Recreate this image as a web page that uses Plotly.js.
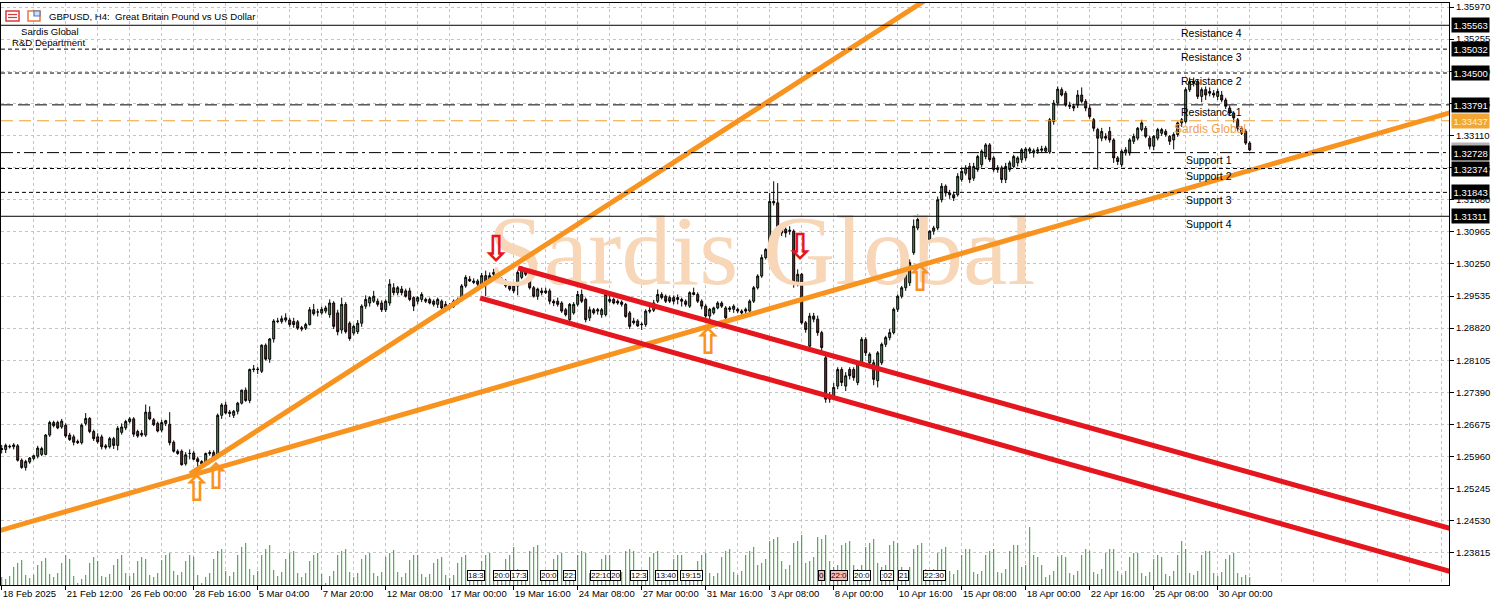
<!DOCTYPE html>
<html><head><meta charset="utf-8">
<script src="https://cdn.plot.ly/plotly-3.0.1.min.js"></script>
<style>html,body{margin:0;padding:0;background:#fff}#chart{width:1499px;height:600px}</style>
</head><body><div id="chart"></div>
<script>
// ---------- DATA ----------
const opens = [
1.2614,1.2612,1.2619,1.2618,1.2620,1.2588,1.2572,1.2584,1.2592,1.2597,
1.2601,1.2601,1.2644,1.2672,1.2672,1.2662,1.2666,1.2644,1.2640,1.2630,
1.2627,1.2670,1.2681,1.2652,1.2640,1.2640,1.2620,1.2618,1.2636,1.2621,
1.2650,1.2660,1.2674,1.2680,1.2652,1.2648,1.2644,1.2695,1.2678,1.2670,
1.2655,1.2670,1.2668,1.2628,1.2608,1.2608,1.2580,1.2603,1.2604,1.2591,
1.2585,1.2582,1.2603,1.2605,1.2597,1.2688,1.2711,1.2692,1.2688,1.2697,
1.2715,1.2744,1.2721,1.2790,1.2791,1.2786,1.2844,1.2813,1.2858,1.2898,
1.2897,1.2900,1.2900,1.2897,1.2896,1.2883,1.2882,1.2890,1.2923,1.2918,
1.2916,1.2920,1.2912,1.2938,1.2916,1.2878,1.2935,1.2893,1.2871,1.2874,
1.2893,1.2931,1.2938,1.2942,1.2942,1.2938,1.2923,1.2938,1.2972,1.2961,
1.2969,1.2965,1.2965,1.2950,1.2942,1.2946,1.2946,1.2946,1.2942,1.2935,
1.2942,1.2935,1.2931,1.2931,1.2938,1.2946,1.2976,1.2991,1.2987,1.2987,
1.2980,1.2999,1.2991,1.3002,1.3006,1.2991,1.2987,1.2976,1.2976,1.2976,
1.2995,1.3010,1.3002,1.2972,1.2953,1.2965,1.2965,1.2965,1.2942,1.2942,
1.2938,1.2923,1.2901,1.2916,1.2935,1.2957,1.2946,1.2905,1.2923,1.2920,
1.2912,1.2912,1.2946,1.2946,1.2942,1.2940,1.2935,1.2916,
1.2898,1.2898,1.2891,1.2890,1.2922,1.2922,1.2942,1.2957,1.2953,1.2950,
1.2950,1.2950,1.2946,1.2942,1.2931,1.2961,1.2957,1.2942,1.2931,1.2909,
1.2916,1.2927,1.2938,1.2927,1.2927,1.2924,1.2924,1.2920,1.2924,1.2920,
1.2942,1.2972,1.2998,1.3039,1.3057,1.3164,1.3161,1.3105,1.3102,1.3100,
1.3098,1.2979,1.3002,1.2894,1.2842,1.2909,1.2902,1.2872,1.2816,1.2731,
1.2731,1.2753,1.2790,1.2753,1.2790,1.2790,1.2761,1.2805,1.2857,1.2805,
1.2805,1.2765,1.2805,1.2846,1.2861,1.2872,1.2924,1.2953,1.2972,1.2983,
1.3050,1.3105,1.3124,1.3053,1.3079,1.3098,1.3105,
1.3168,1.3198,1.3183,1.3179,1.3179,1.3213,1.3227,1.3242,1.3216,1.3235,
1.3246,1.3264,1.3290,1.3261,1.3239,1.3239,1.3213,1.3235,1.3242,1.3250,
1.3257,1.3261,1.3276,1.3272,1.3276,1.3278,1.3276,1.3274,1.3342,1.3383,
1.3413,1.3405,1.3379,1.3376,1.3379,1.3401,1.3387,1.3372,1.3346,1.3324,
1.3305,1.3309,1.3320,1.3301,1.3261,1.3246,1.3272,1.3272,1.3298,1.3305,
1.3324,1.3327,1.3305,1.3287,1.3305,1.3316,1.3320,1.3309,1.3301,1.3313,
1.3339,1.3342,1.3413,1.3431,1.3431,1.3398,1.3413,1.3409,1.3405,1.3398,
1.3401,1.3390,1.3372,1.3361,1.3346,1.3327,1.3320,1.3294];
const highs = [
1.2622,1.2625,1.2623,1.2626,1.2624,1.2592,1.2589,1.2595,1.2600,1.2620,
1.2618,1.2646,1.2676,1.2676,1.2676,1.2680,1.2670,1.2649,1.2645,1.2634,
1.2670,1.2693,1.2684,1.2656,1.2648,1.2645,1.2624,1.2640,1.2640,1.2664,
1.2670,1.2678,1.2684,1.2684,1.2656,1.2655,1.2712,1.2708,1.2682,1.2674,
1.2678,1.2678,1.2695,1.2632,1.2612,1.2612,1.2606,1.2612,1.2609,1.2596,
1.2588,1.2605,1.2610,1.2610,1.2692,1.2715,1.2718,1.2700,1.2700,1.2718,
1.2745,1.2750,1.2792,1.2800,1.2796,1.2846,1.2848,1.2860,1.2902,1.2905,
1.2910,1.2915,1.2905,1.2905,1.2900,1.2887,1.2894,1.2929,1.2936,1.2925,
1.2930,1.2932,1.2946,1.2942,1.2923,1.2950,1.2940,1.2897,1.2890,1.2900,
1.2935,1.2955,1.2953,1.2965,1.2948,1.2944,1.2946,1.2991,1.2982,1.2976,
1.2976,1.2970,1.2972,1.2953,1.2953,1.2962,1.2950,1.2950,1.2946,1.2950,
1.2946,1.2942,1.2938,1.2946,1.2950,1.2980,1.3000,1.2998,1.2993,1.2991,
1.3005,1.3010,1.3006,1.3014,1.3010,1.2995,1.2991,1.2980,1.2980,1.3010,
1.3020,1.3015,1.3006,1.2976,1.2972,1.2972,1.2972,1.2970,1.2946,1.2950,
1.2942,1.2927,1.2938,1.2940,1.2965,1.2968,1.2950,1.2930,1.2927,1.2927,
1.2927,1.2962,1.2960,1.2950,1.2946,1.2944,1.2938,1.2920,
1.2905,1.2902,1.2895,1.2924,1.2930,1.2945,1.2968,1.2962,1.2957,1.2955,
1.2955,1.2957,1.2950,1.2946,1.2964,1.2972,1.2962,1.2946,1.2935,1.2927,
1.2930,1.2942,1.2942,1.2931,1.2931,1.2935,1.2928,1.2924,1.2928,1.2946,
1.2976,1.3002,1.3046,1.3060,1.3183,1.3209,1.3205,1.3109,1.3106,1.3109,
1.3102,1.3013,1.3005,1.2898,1.2916,1.2916,1.2910,1.2876,1.2820,1.2740,
1.2760,1.2795,1.2795,1.2784,1.2795,1.2795,1.2808,1.2862,1.2862,1.2828,
1.2812,1.2831,1.2850,1.2865,1.2880,1.2928,1.2957,1.2976,1.3020,1.3035,
1.3124,1.3135,1.3130,1.3075,1.3100,1.3110,1.3175,
1.3205,1.3202,1.3190,1.3186,1.3227,1.3240,1.3245,1.3250,1.3250,1.3268,
1.3280,1.3294,1.3294,1.3265,1.3245,1.3244,1.3250,1.3255,1.3268,1.3265,
1.3283,1.3285,1.3285,1.3282,1.3285,1.3288,1.3288,1.3350,1.3390,1.3420,
1.3418,1.3410,1.3386,1.3382,1.3412,1.3418,1.3392,1.3378,1.3350,1.3328,
1.3328,1.3316,1.3330,1.3305,1.3265,1.3280,1.3285,1.3305,1.3315,1.3330,
1.3346,1.3332,1.3310,1.3312,1.3328,1.3328,1.3325,1.3312,1.3318,1.3342,
1.3350,1.3418,1.3440,1.3440,1.3436,1.3418,1.3420,1.3418,1.3412,1.3415,
1.3410,1.3395,1.3378,1.3365,1.3350,1.3332,1.3325,1.3298];
const lows = [
1.2603,1.2604,1.2614,1.2612,1.2585,1.2569,1.2565,1.2580,1.2588,1.2592,
1.2597,1.2599,1.2640,1.2661,1.2657,1.2658,1.2638,1.2631,1.2621,1.2624,
1.2623,1.2665,1.2648,1.2631,1.2625,1.2612,1.2612,1.2614,1.2613,1.2610,
1.2645,1.2655,1.2670,1.2640,1.2638,1.2640,1.2640,1.2677,1.2664,1.2650,
1.2650,1.2664,1.2621,1.2605,1.2600,1.2576,1.2576,1.2590,1.2588,1.2569,
1.2576,1.2578,1.2598,1.2592,1.2592,1.2680,1.2690,1.2684,1.2682,1.2690,
1.2712,1.2718,1.2715,1.2784,1.2780,1.2782,1.2810,1.2805,1.2850,1.2893,
1.2892,1.2895,1.2885,1.2883,1.2878,1.2875,1.2878,1.2888,1.2910,1.2908,
1.2912,1.2915,1.2905,1.2880,1.2866,1.2870,1.2870,1.2854,1.2866,1.2869,
1.2885,1.2925,1.2930,1.2938,1.2930,1.2918,1.2918,1.2932,1.2955,1.2955,
1.2955,1.2950,1.2942,1.2920,1.2935,1.2940,1.2938,1.2935,1.2930,1.2927,
1.2920,1.2923,1.2923,1.2927,1.2935,1.2942,1.2972,1.2985,1.2980,1.2976,
1.2972,1.2953,1.2985,1.2998,1.2995,1.2980,1.2972,1.2965,1.2960,1.2955,
1.2991,1.2998,1.2968,1.2950,1.2945,1.2955,1.2958,1.2935,1.2931,1.2930,
1.2916,1.2908,1.2895,1.2912,1.2930,1.2938,1.2895,1.2898,1.2912,1.2912,
1.2905,1.2908,1.2938,1.2935,1.2934,1.2930,1.2905,1.2880,
1.2890,1.2885,1.2878,1.2885,1.2915,1.2918,1.2938,1.2946,1.2938,1.2938,
1.2935,1.2935,1.2930,1.2930,1.2927,1.2955,1.2938,1.2924,1.2905,1.2902,
1.2912,1.2924,1.2927,1.2898,1.2918,1.2916,1.2915,1.2912,1.2912,1.2916,
1.2938,1.2968,1.2994,1.3035,1.3050,1.3155,1.3102,1.3087,1.3084,1.3090,
1.2972,1.2975,1.2890,1.2872,1.2830,1.2895,1.2865,1.2830,1.2716,1.2716,
1.2726,1.2746,1.2753,1.2742,1.2768,1.2765,1.2755,1.2800,1.2820,1.2798,
1.2755,1.2750,1.2800,1.2840,1.2855,1.2868,1.2918,1.2948,1.2965,1.2976,
1.3045,1.3100,1.3045,1.3040,1.3072,1.3090,1.3100,
1.3162,1.3175,1.3170,1.3165,1.3175,1.3208,1.3222,1.3205,1.3210,1.3230,
1.3240,1.3258,1.3252,1.3230,1.3228,1.3205,1.3205,1.3230,1.3238,1.3242,
1.3250,1.3255,1.3270,1.3262,1.3270,1.3272,1.3272,1.3270,1.3335,1.3378,
1.3398,1.3375,1.3370,1.3365,1.3372,1.3383,1.3365,1.3348,1.3320,1.3235,
1.3298,1.3300,1.3295,1.3250,1.3245,1.3240,1.3266,1.3266,1.3292,1.3300,
1.3320,1.3305,1.3280,1.3278,1.3300,1.3310,1.3308,1.3290,1.3280,1.3308,
1.3330,1.3338,1.3408,1.3420,1.3392,1.3385,1.3390,1.3398,1.3395,1.3390,
1.3385,1.3370,1.3355,1.3340,1.3320,1.3312,1.3290,1.3276];
const closes = [
1.2612,1.2621,1.2618,1.2622,1.2588,1.2572,1.2585,1.2593,1.2598,1.2615,
1.2614,1.2644,1.2672,1.2665,1.2660,1.2675,1.2642,1.2634,1.2628,1.2627,
1.2666,1.2681,1.2652,1.2636,1.2629,1.2618,1.2617,1.2636,1.2621,1.2659,
1.2662,1.2674,1.2680,1.2646,1.2642,1.2644,1.2695,1.2680,1.2667,1.2653,
1.2672,1.2676,1.2627,1.2608,1.2603,1.2578,1.2600,1.2603,1.2590,1.2585,
1.2580,1.2603,1.2605,1.2595,1.2688,1.2711,1.2693,1.2695,1.2697,1.2715,
1.2744,1.2721,1.2790,1.2791,1.2790,1.2844,1.2813,1.2858,1.2898,1.2897,
1.2903,1.2905,1.2890,1.2890,1.2882,1.2880,1.2890,1.2923,1.2914,1.2918,
1.2924,1.2927,1.2938,1.2886,1.2874,1.2935,1.2874,1.2859,1.2886,1.2893,
1.2931,1.2946,1.2950,1.2953,1.2935,1.2923,1.2942,1.2980,1.2961,1.2972,
1.2961,1.2953,1.2946,1.2931,1.2950,1.2957,1.2942,1.2938,1.2935,1.2946,
1.2927,1.2927,1.2927,1.2942,1.2946,1.2976,1.2995,1.2987,1.2984,1.2980,
1.2999,1.2980,1.2999,1.3006,1.2999,1.2984,1.2976,1.2969,1.2965,1.3006,
1.3014,1.3002,1.2972,1.2953,1.2969,1.2961,1.2961,1.2942,1.2938,1.2935,
1.2920,1.2912,1.2935,1.2935,1.2957,1.2942,1.2901,1.2923,1.2916,1.2923,
1.2923,1.2957,1.2942,1.2938,1.2938,1.2935,1.2908,1.2886,
1.2894,1.2887,1.2890,1.2920,1.2920,1.2938,1.2957,1.2950,1.2942,1.2942,
1.2942,1.2946,1.2942,1.2935,1.2961,1.2957,1.2942,1.2931,1.2909,1.2924,
1.2927,1.2938,1.2931,1.2905,1.2924,1.2931,1.2920,1.2916,1.2920,1.2942,
1.2972,1.2998,1.3039,1.3057,1.3164,1.3161,1.3105,1.3094,1.3094,1.3098,
1.2983,1.3002,1.2894,1.2879,1.2909,1.2902,1.2872,1.2839,1.2724,1.2724,
1.2750,1.2790,1.2761,1.2776,1.2776,1.2772,1.2805,1.2857,1.2827,1.2824,
1.2768,1.2827,1.2846,1.2861,1.2872,1.2924,1.2953,1.2972,1.3013,1.3028,
1.3109,1.3124,1.3053,1.3072,1.3098,1.3105,1.3168,
1.3198,1.3183,1.3179,1.3172,1.3220,1.3231,1.3239,1.3213,1.3242,1.3264,
1.3276,1.3290,1.3257,1.3235,1.3235,1.3213,1.3242,1.3250,1.3264,1.3261,
1.3279,1.3281,1.3281,1.3277,1.3279,1.3281,1.3283,1.3346,1.3383,1.3414,
1.3401,1.3379,1.3376,1.3372,1.3401,1.3387,1.3372,1.3353,1.3327,1.3305,
1.3320,1.3305,1.3301,1.3261,1.3253,1.3276,1.3279,1.3301,1.3309,1.3327,
1.3339,1.3309,1.3287,1.3309,1.3324,1.3324,1.3313,1.3298,1.3313,1.3339,
1.3346,1.3413,1.3431,1.3427,1.3398,1.3413,1.3401,1.3405,1.3401,1.3409,
1.3390,1.3376,1.3361,1.3350,1.3327,1.3316,1.3294,1.3279];
const volumes = [
8, 6,9,18,22,25,10, 7,10,20,24,27,11, 8,12,22,30,26,9, 2,
6,10,22,28,24,9, 8,11,20,26,30,12, 9,12,24,28,26,10, 8,12,25,30,32,14, 10,13,24,30,28,10, 2,
8,12,26,34,36,14, 9,13,30,38,42,16, 10,14,30,36,40,15, 9,13,26,32,34,12, 8,12,24,30,32,11, 2,
9,14,30,34,36,13, 8,12,26,30,32,12, 9,13,28,32,35,13, 8,12,25,30,30,11, 8,11,22,26,28,10,
7,10,22,28,30,11, 8,11,24,30,32,12, 8,12,26,30,38,16, 9,14,34,38,40,14, 8,12,26,30,32,11,
8,12,30,34,32,12, 8,12,26,30,30,11, 9,13,34,36,34,12, 8,12,28,32,34,12, 8,11,26,30,30,10,
8,12,24,30,32,12, 9,12,28,34,36,13, 10,14,30,34,38,20, 22,26,44,46,48,24, 16,20,42,44,50,22,
24,28,48,46,50,24, 18,20,40,42,44,20, 16,20,38,42,46,22, 18,20,40,44,42,18, 14,18,36,40,42,16,
12,16,32,36,38,14, 11,15,30,36,36,13, 11,14,30,34,36,13, 12,16,34,40,40,18, 20,58,30,28,20,8,
10,14,28,30,28,12, 10,14,30,36,34,13, 11,16,32,36,36,14, 10,14,28,32,32,12, 9,13,26,30,28,11,
9,14,30,44,36,12, 10,14,30,34,34,12, 9,13,26,30,32,12, 8,10,8];
const barIndex = closes.map((_, i) => i);

const tickBars = [0,16,32,48,64,80,96,112,128,144,160,176,192,208,224,240,256,272,288,304];
const tickLabels = ["18 Feb 2025","21 Feb 12:00","26 Feb 00:00","28 Feb 16:00","5 Mar 04:00","7 Mar 20:00",
  "12 Mar 08:00","17 Mar 00:00","19 Mar 16:00","24 Mar 08:00","27 Mar 00:00","31 Mar 16:00","3 Apr 08:00",
  "8 Apr 00:00","10 Apr 16:00","15 Apr 08:00","18 Apr 00:00","22 Apr 16:00","25 Apr 08:00","30 Apr 00:00"];
const priceTickLabels = ["1.23815","1.24530","1.25245","1.25960","1.26675","1.27390","1.28105","1.28820",
  "1.29535","1.30250","1.30965","1.31680","1.32395","1.33110","1.33825","1.34540","1.35255","1.35970"];

const levelPrices = [1.35563, 1.35032, 1.34500, 1.33791, 1.33437, 1.32728, 1.32374, 1.31843, 1.31311];
const levelNames = ["Resistance 4","Resistance 3","Resistance 2","Resistance 1","Sardis Global","Support 1","Support 2","Support 3","Support 4"];
const levelLabelBars = [294.6, 294.6, 294.6, 294.6, 292.8, 295.8, 295.8, 295.8, 295.8];
const bidPrice = 1.32790;

// trendlines: anchor bars and prices
const orangeLowBars = [-1, 363], orangeLowPrices = [1.24300, 1.33640];
const orangeSteepBars = [47.1, 246.5], orangeSteepPrices = [1.25574, 1.37016];
const redUpperBars = [129.1, 363], redUpperPrices = [1.30160, 1.24340];
const redLowerBars = [119.6, 363], redLowerPrices = [1.29492, 1.23380];

const upArrowBars = [48.8, 53.6, 176.6, 229.6];
const upArrowPrices = [1.25173, 1.25440, 1.28445, 1.29848];
const downArrowBars = [123.6, 199.6];
const downArrowPrices = [1.30516, 1.30560];

const watermarkBar = [190], watermarkPrice = [1.3035], watermarkText = ["Sardis Global"];

const eventBars = [116.3,122.8,127.0,134.6,140.3,147.1,152.1,157.1,163.3,169.6,204.0,207.0,212.8,219.6,224.1,230.3];
const eventLabels = ["18:3","20:0","17:3","20:0","22:","22:10","20","12:3","13:40","19:15","0","22:0","20:0",":02","21","22:30"];
const eventFlagged = [0,0,0,0,0,0,0,0,0,0,1,1,0,0,0,0];

// ---------- STYLE ----------
const FONT = "Liberation Sans";
const ORANGE = "#f7931e", RED = "#e5161d";
const levelStyles = [
  {dash:"solid", color:"#000"}, {dash:"4px,3px", color:"#000"}, {dash:"4px,3px", color:"#000"},
  {dash:"12px,5px", color:"#000"}, {dash:"12px,6px", color:"#f0a030"}, {dash:"12px,4px,3px,4px", color:"#000"},
  {dash:"4px,3px", color:"#000"}, {dash:"4px,3px", color:"#000"}, {dash:"solid", color:"#000"}];

const traces = [];
traces.push({type:"scatter", mode:"text", x:watermarkBar, y:watermarkPrice, text:watermarkText,
  textposition:"middle center", textfont:{family:"Liberation Serif", size:100, color:"#f8d6b8"},
  hoverinfo:"skip", showlegend:false, cliponaxis:false});
traces.push({type:"candlestick", x:barIndex, open:opens, high:highs, low:lows, close:closes,
  increasing:{fillcolor:"#3d9e3d", line:{color:"#000", width:1}},
  decreasing:{fillcolor:"#9e1e1e", line:{color:"#000", width:1}},
  whiskerwidth:0, hoverinfo:"skip", showlegend:false});
traces.push({type:"bar", x:barIndex, y:volumes, yaxis:"y2", marker:{color:"#2f9a2f", line:{width:0}},
  width:0.25, hoverinfo:"skip", showlegend:false});
[[orangeLowBars, orangeLowPrices, ORANGE], [orangeSteepBars, orangeSteepPrices, ORANGE],
 [redUpperBars, redUpperPrices, RED], [redLowerBars, redLowerPrices, RED]].forEach(([xs, ys, c]) => {
  traces.push({type:"scatter", mode:"lines", x:xs, y:ys, line:{color:c, width:5}, hoverinfo:"skip", showlegend:false});
});
traces.push({type:"scatter", mode:"text", x:upArrowBars, y:upArrowPrices, text:upArrowBars.map(() => "<b>⇧</b>"),
  textposition:"middle center", textfont:{family:"DejaVu Sans", size:36, color:ORANGE}, hoverinfo:"skip", showlegend:false});
traces.push({type:"scatter", mode:"text", x:downArrowBars, y:downArrowPrices, text:downArrowBars.map(() => "<b>⇩</b>"),
  textposition:"middle center", textfont:{family:"DejaVu Sans", size:36, color:RED}, hoverinfo:"skip", showlegend:false});

const shapes = levelPrices.map((p, i) => ({type:"line", xref:"paper", x0:0, x1:1, yref:"y", y0:p, y1:p,
  line:{color:levelStyles[i].color, width:1, dash:levelStyles[i].dash}, layer:"above"}));
// header icons
const px = v => (v - 1) / 1448, py = v => (585 - v) / 582;
shapes.push({type:"rect", xref:"paper", yref:"paper", x0:px(6), x1:px(19), y0:py(21), y1:py(11), line:{color:"#d83a3a", width:1.5}, fillcolor:"#fff"});
shapes.push({type:"line", xref:"paper", yref:"paper", x0:px(8), x1:px(17), y0:py(14.5), y1:py(14.5), line:{color:"#d83a3a", width:1.2}});
shapes.push({type:"line", xref:"paper", yref:"paper", x0:px(8), x1:px(17), y0:py(17.5), y1:py(17.5), line:{color:"#d83a3a", width:1.2}});
shapes.push({type:"rect", xref:"paper", yref:"paper", x0:px(28), x1:px(40), y0:py(21), y1:py(11), line:{color:"#e8783a", width:1.5}, fillcolor:"#fff"});
shapes.push({type:"rect", xref:"paper", yref:"paper", x0:px(34), x1:px(40), y0:py(16), y1:py(11), line:{color:"#4a7ac8", width:1.2}, fillcolor:"#cfe0f5"});

const annotations = [];
levelNames.forEach((name, i) => {
  const isOrange = i === 4;
  annotations.push({xref:"x", yref:"y", x:levelLabelBars[i], y:levelPrices[i], xanchor:"left", yanchor:"top",
    yshift:-0.5, showarrow:false, text:name, borderpad:0,
    font:{family:FONT, size:isOrange ? 12 : 10.5, color:isOrange ? "#f0a050" : "#000"}});
});
annotations.push({xref:"paper", yref:"y", x:1, y:bidPrice, xanchor:"left", yanchor:"middle", xshift:2,
  text:bidPrice.toFixed(5), showarrow:false, bgcolor:"#b4b4b4", borderpad:1.5, font:{family:FONT, size:9.5, color:"#fff"}});
levelPrices.forEach((p, i) => {
  const isOrange = i === 4;
  annotations.push({xref:"paper", yref:"y", x:1, y:p, xanchor:"left", yanchor:"middle", xshift:2,
    text:p.toFixed(5), showarrow:false, bgcolor:isOrange ? "#f4a634" : "#000", borderpad:1.5,
    font:{family:FONT, size:9.5, color:isOrange ? "#fff2c8" : "#fff"}});
});
annotations.push({xref:"paper", yref:"paper", x:px(47), y:py(16), xanchor:"left", yanchor:"middle", showarrow:false,
  text:"GBPUSD, H4:  Great Britain Pound vs US Dollar", font:{family:FONT, size:9.6, color:"#000"}});
annotations.push({xref:"paper", yref:"paper", x:px(19), y:py(31), xanchor:"left", yanchor:"middle", showarrow:false,
  text:"Sardis Global", font:{family:FONT, size:9.6, color:"#000"}});
annotations.push({xref:"paper", yref:"paper", x:px(10), y:py(43), xanchor:"left", yanchor:"middle", showarrow:false,
  text:"R&amp;D Department", font:{family:FONT, size:9.6, color:"#000"}});
eventBars.forEach((b, i) => {
  annotations.push({xref:"x", yref:"paper", x:b, y:py(575), xanchor:"left", yanchor:"middle", showarrow:false,
    text:eventLabels[i], bgcolor:eventFlagged[i] ? "#f3bcbc" : "#fff", bordercolor:"#000", borderwidth:1, borderpad:0,
    font:{family:FONT, size:8, color:"#000"}});
});

const layout = {
  width:1499, height:600, margin:{l:1, r:50, t:3, b:15},
  paper_bgcolor:"#fff", plot_bgcolor:"#fff", showlegend:false, hovermode:false, dragmode:false,
  xaxis:{range:[-0.175, 361.825], tickmode:"array", tickvals:tickBars, ticktext:tickLabels, tickangle:0,
    ticks:"outside", ticklen:4, tickcolor:"#000", ticklabelposition:"outside right", ticklabelstandoff:0,
    tickfont:{family:FONT, size:9.5, color:"#000"}, showline:true, linecolor:"#000", linewidth:1, mirror:true,
    showgrid:true, gridcolor:"#c4c4c4", griddash:"3px,3px", gridwidth:1, zeroline:false,
    minor:{tickmode:"linear", tick0:0, dtick:8, showgrid:true, gridcolor:"#c4c4c4", griddash:"3px,3px", ticks:""},
    rangeslider:{visible:false}, fixedrange:true},
  yaxis:{range:[1.23102, 1.36059], side:"right", tickmode:"array", tickvals:priceTickLabels.map(Number), ticktext:priceTickLabels,
    ticks:"outside", ticklen:4, tickcolor:"#000", tickfont:{family:FONT, size:9.5, color:"#000"},
    showline:true, linecolor:"#000", linewidth:1, mirror:true,
    showgrid:true, gridcolor:"#c4c4c4", griddash:"3px,3px", gridwidth:1, zeroline:false, fixedrange:true},
  yaxis2:{overlaying:"y", range:[0, 582], visible:false, showgrid:false, fixedrange:true},
  shapes:shapes, annotations:annotations
};
Plotly.newPlot("chart", traces, layout, {staticPlot:true, displayModeBar:false});
</script></body></html>
